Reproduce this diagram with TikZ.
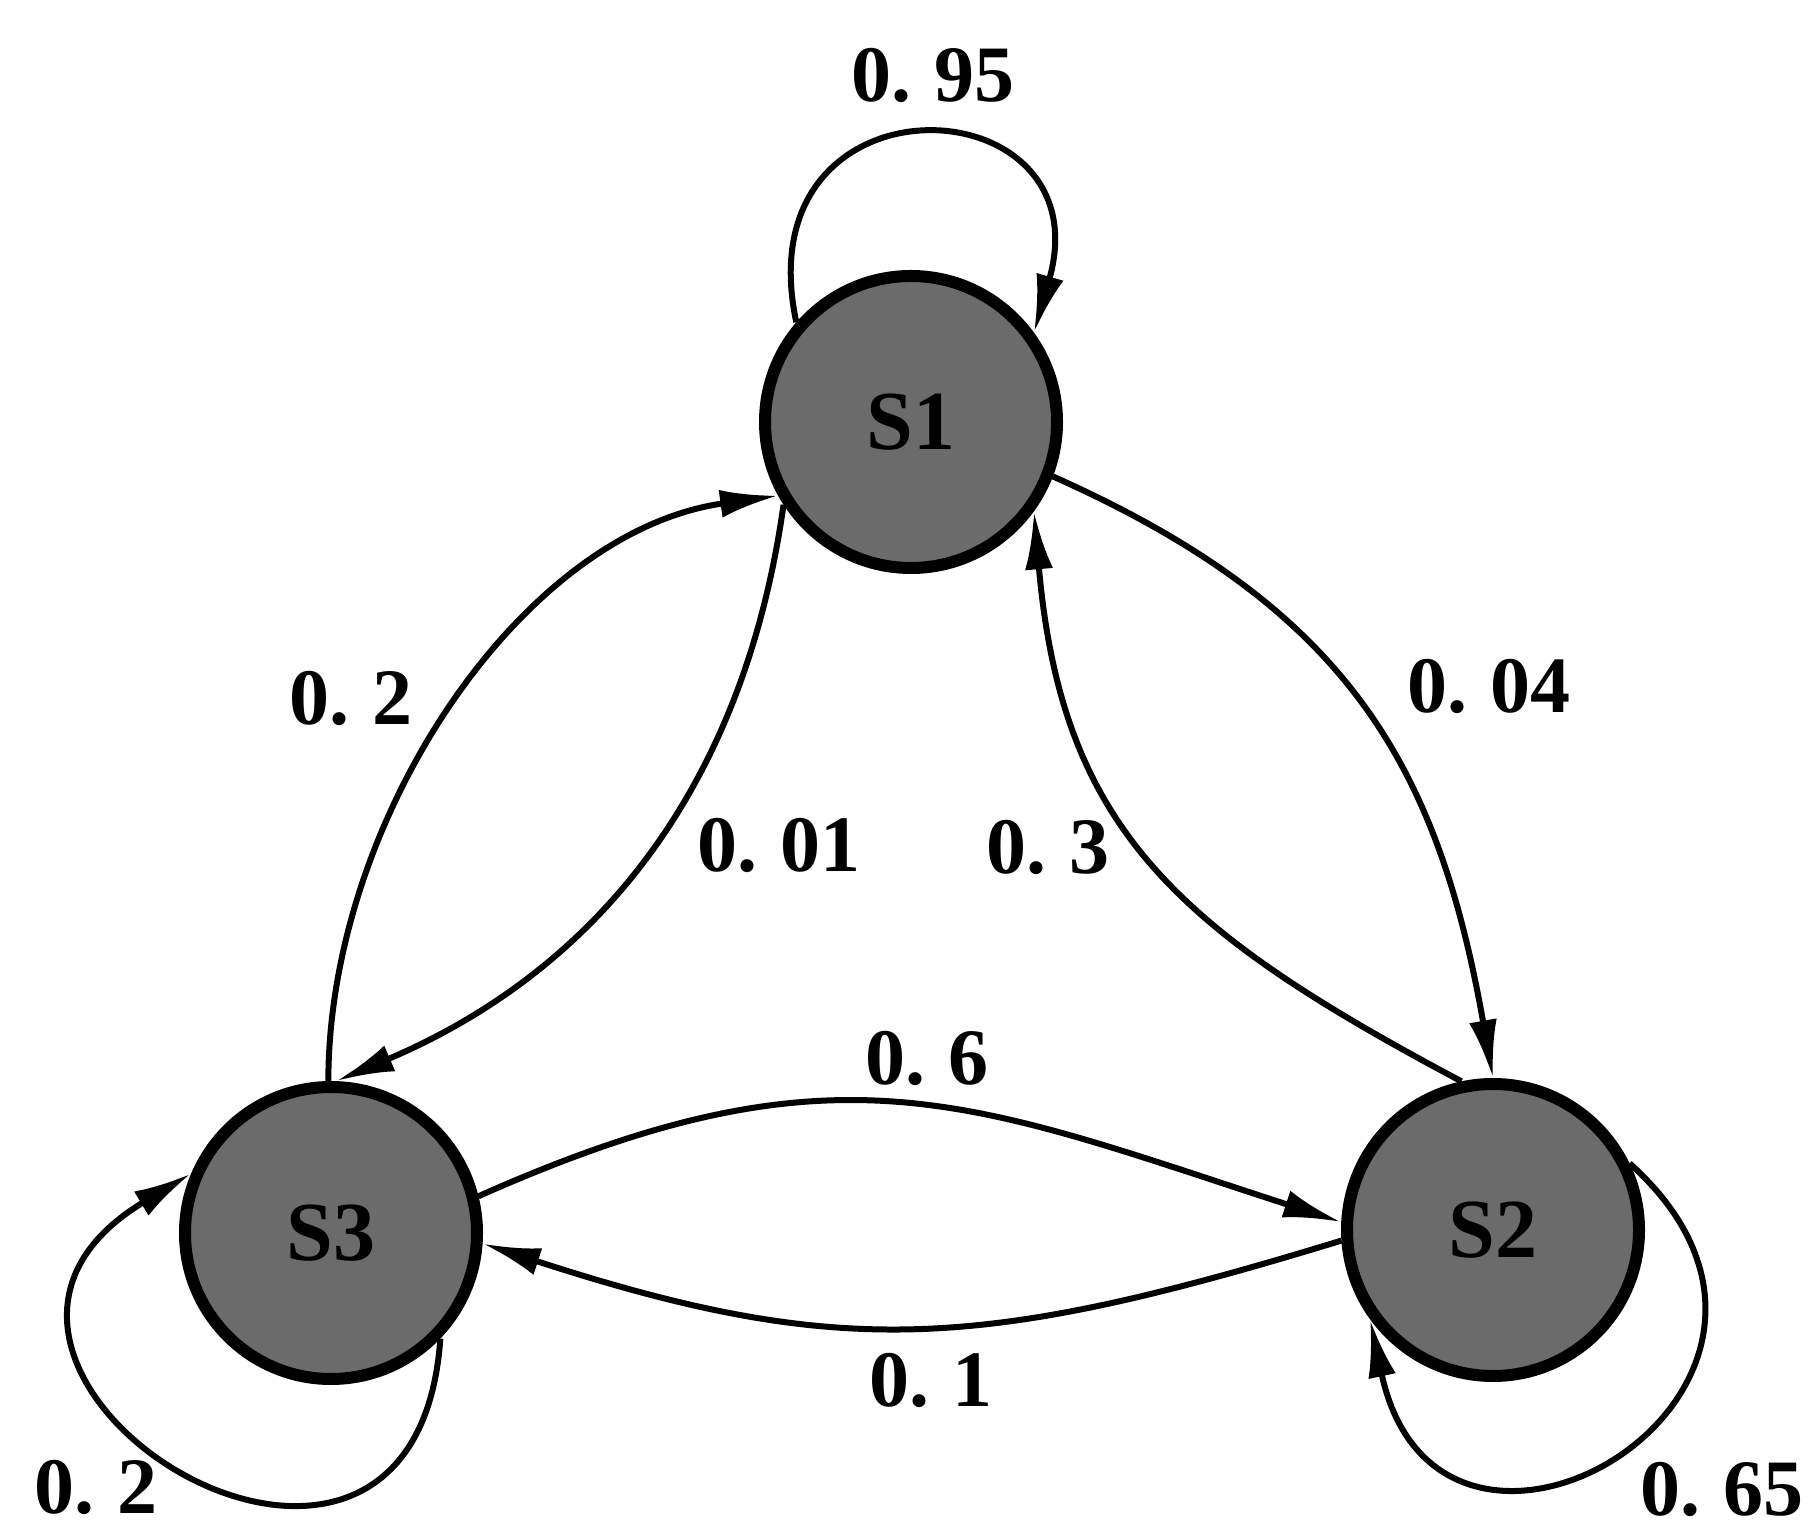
\documentclass[tikz,border=0pt]{standalone}
\usepackage{fontspec}
\setmainfont{Liberation Serif}
\usetikzlibrary{arrows.meta}
\newcommand\myp{.\hspace{0.28em}}
\begin{document}
\begin{tikzpicture}[x=1pt,y=1pt,
  state/.style={circle,draw=black,line width=12pt,fill=black!58,minimum size=292pt,inner sep=0pt,
    font=\fontsize{84}{90}\selectfont\bfseries},
  edge/.style={line width=6pt,-{Latex[length=58pt,width=28pt]}},
  lab/.style={font=\fontsize{80}{90}\selectfont\bfseries,inner sep=0pt}]
\useasboundingbox (0,0) rectangle (1814,1529);
\node[state] (S1) at (911,1107) {S1};
\node[state] (S2) at (1493,299) {S2};
\node[state] (S3) at (331,296) {S3};
% self loops
\draw[edge] (S1.139) to[out=102,in=74,distance=262pt] (S1.36);
\draw[edge] (S3.316) to[out=266,in=211,distance=375pt] (S3.157);
\draw[edge] (S2.26) to[out=318,in=282,distance=335pt] (S2.216);
% transitions
\draw[edge] (S3.91) to[out=90,in=188,looseness=0.9] (S1.209);
\draw[edge] (S1.213) to[out=262,in=23] (S3.88);
\draw[edge] (S1.339) to[out=336,in=100,looseness=1.1] (S2.90);
\draw[edge] (S2.102) to[out=152,in=275,looseness=1.15] (S1.324);
\draw[edge] (S3.14) to[out=24,in=162,looseness=1.16] (S2.177);
\draw[edge] (S2.184) to[out=197,in=342,looseness=1.12] (S3.356);
% labels
\node[lab] (l95) at (933,1454) {0\myp95};
\node[lab] (l20) at (351,831) {0\myp2};
\node[lab] (l01) at (779,684) {0\myp01};
\node[lab] (l04) at (1489,843) {0\myp04};
\node[lab] (l30) at (1048,682) {0\myp3};
\node[lab] (l60) at (927,471) {0\myp6};
\node[lab] (l10) at (931,149) {0\myp1};
\node[lab] (l65) at (1722,40) {0\myp65};
\node[lab] (l2b) at (96,42) {0\myp2};
\end{tikzpicture}
\end{document}
